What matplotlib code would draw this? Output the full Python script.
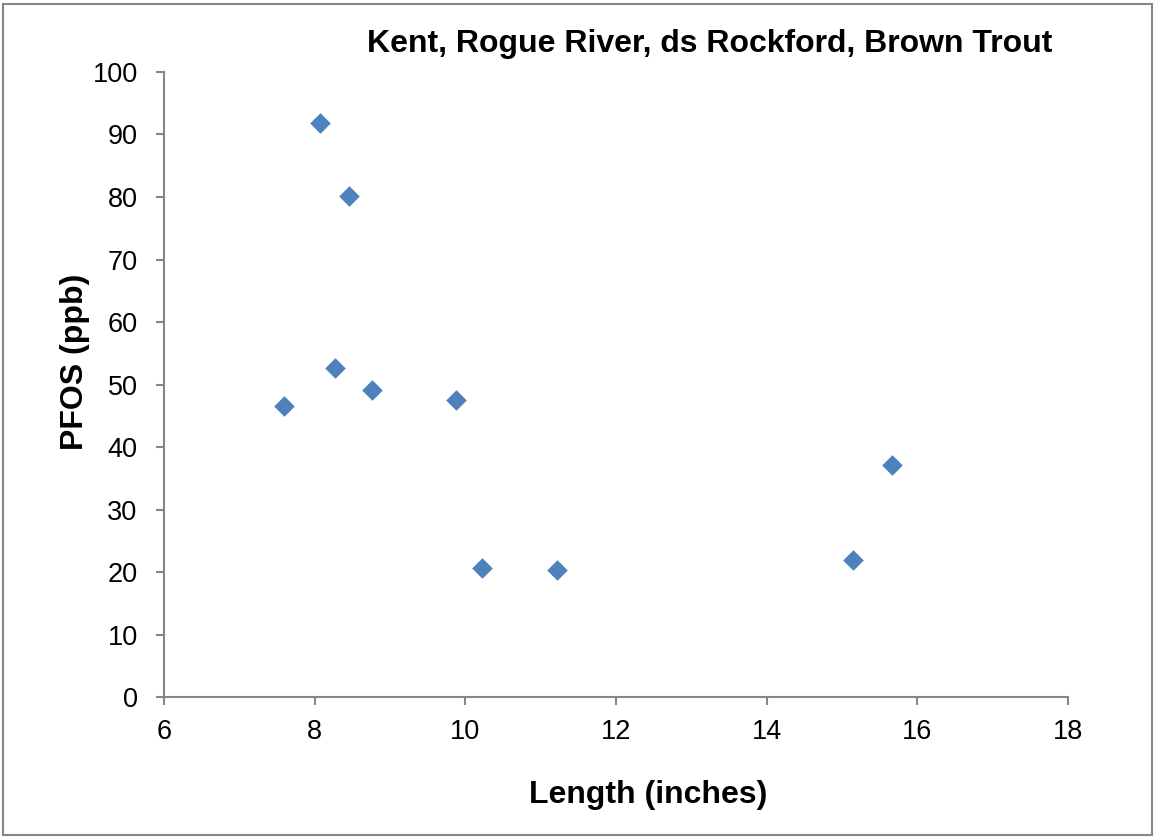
import matplotlib
matplotlib.use("Agg")
from matplotlib import pyplot as plt
from matplotlib.patches import Rectangle

# Kent, Rogue River, ds Rockford, Brown Trout
longitud = [7.59, 8.07, 8.46, 8.27, 8.76, 9.88, 10.22, 11.22, 15.15, 15.66]
pfos = [46.6, 91.9, 80.1, 52.7, 49.1, 47.5, 20.7, 20.3, 21.9, 37.2]

plt.rcParams['font.family'] = ['Liberation Sans', 'DejaVu Sans']

fig = plt.figure(figsize=(11.56, 8.40), dpi=100)
ax = fig.add_axes([0.1419, 0.1702, 0.7820, 0.7441])

ax.scatter(longitud, pfos, marker="D", s=110, color="#4F81BD", linewidths=0, zorder=3)

ax.set_xlim(6, 18)
ax.set_ylim(0, 100)
ax.set_xticks(range(6, 19, 2))
ax.set_yticks(range(0, 101, 10))

for lado in ["top", "right"]:
    ax.spines[lado].set_visible(False)
for lado in ["left", "bottom"]:
    ax.spines[lado].set_color("#868686")
    ax.spines[lado].set_linewidth(1.5)
ax.tick_params(axis="both", direction="out", length=6, width=1.5, color="#868686",
               labelsize=19.5)
ax.tick_params(axis="x", pad=10)
ax.tick_params(axis="y", pad=13)

ax.set_xlabel("Length (inches)", fontsize=23, fontweight="bold", va="center")
ax.xaxis.set_label_coords(0.5354, -0.157)
ax.set_ylabel("PFOS (ppb)", fontsize=23, fontweight="bold", va="center")
ax.yaxis.set_label_coords(-0.0985, 0.536)
fig.text(0.614, 0.948, "Kent, Rogue River, ds Rockford, Brown Trout",
         fontsize=23, fontweight="bold", ha="center", va="center")

# borde del grafico
fig.patches.append(Rectangle((3 / 1156, 5 / 840), 1149 / 1156, 831 / 840,
                             transform=fig.transFigure, fill=False,
                             edgecolor="#868686", linewidth=1.5))

fig.savefig("out.png", dpi=100)
